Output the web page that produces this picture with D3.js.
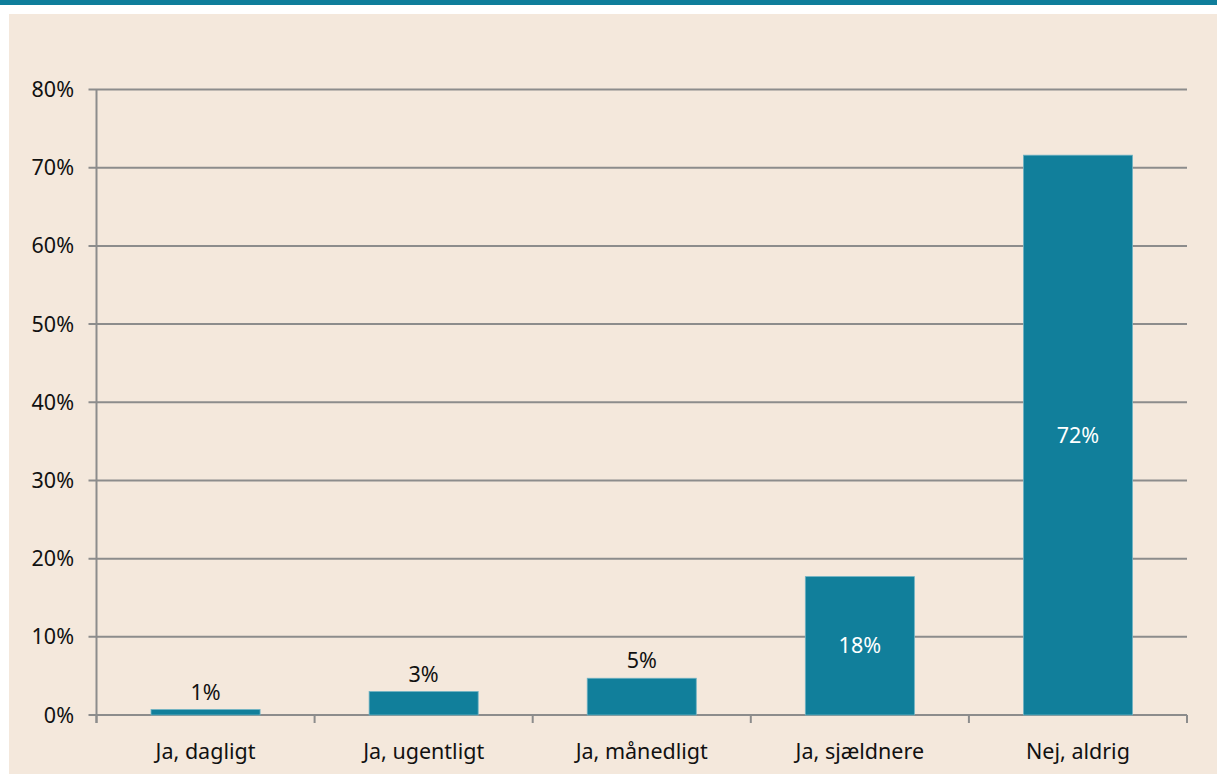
<!DOCTYPE html>
<html>
<head>
<meta charset="utf-8">
<script src="https://cdn.jsdelivr.net/npm/d3@7"></script>
<style>
  body { margin: 0; background: #fff; }
  svg { display: block; font-family: "Noto Sans", "Open Sans", sans-serif; }
</style>
</head>
<body>
<div id="vis-container"></div>
<script>
// data
const categories = ["Ja, dagligt", "Ja, ugentligt", "Ja, månedligt", "Ja, sjældnere", "Nej, aldrig"];
const values = [0.7, 3.0, 4.7, 17.7, 71.6];
const valueLabels = ["1%", "3%", "5%", "18%", "72%"];
const yTicks = [0, 10, 20, 30, 40, 50, 60, 70, 80];

const width = 1217;
const height = 774;
const margin = {left: 96.5, right: 30, top: 89.5, bottom: 59};
const barColor = "#117f9b";
const gridColor = "#8c8c8c";
const fontSize = 21.5;

const svg = d3.select("#vis-container")
  .append("svg")
  .attr("width", width)
  .attr("height", height);

// top teal strip and beige panel
svg.append("rect").attr("x", 0).attr("y", 0).attr("width", width).attr("height", 5).attr("fill", "#0f7e9b");
svg.append("rect").attr("x", 9).attr("y", 14).attr("width", width - 9).attr("height", height - 14).attr("fill", "#f4e8dc");

const x = d3.scaleBand()
  .domain(categories)
  .range([margin.left, width - margin.right])
  .paddingInner(0.5)
  .paddingOuter(0.25);

const xEdge = d3.scaleLinear()
  .domain([0, categories.length])
  .range([margin.left, width - margin.right]);

const y = d3.scaleLinear()
  .domain([0, 80])
  .range([height - margin.bottom, margin.top]);

// gridlines
svg.append("g")
  .selectAll("line")
  .data(yTicks)
  .join("line")
  .attr("x1", margin.left - 8)
  .attr("x2", width - margin.right)
  .attr("y1", d => y(d))
  .attr("y2", d => y(d))
  .attr("stroke", gridColor)
  .attr("stroke-width", 2);

// y axis line
svg.append("line")
  .attr("x1", margin.left).attr("x2", margin.left)
  .attr("y1", y(80)).attr("y2", y(0) + 8)
  .attr("stroke", gridColor).attr("stroke-width", 2);

// category ticks
svg.append("g")
  .selectAll("line")
  .data(d3.range(categories.length + 1))
  .join("line")
  .attr("x1", d => xEdge(d)).attr("x2", d => xEdge(d))
  .attr("y1", y(0)).attr("y2", y(0) + 8)
  .attr("stroke", gridColor).attr("stroke-width", 2);

// y tick labels
svg.append("g")
  .selectAll("text")
  .data(yTicks)
  .join("text")
  .attr("x", 74)
  .attr("y", d => y(d))
  .attr("dy", "0.35em")
  .attr("text-anchor", "end")
  .attr("font-size", fontSize)
  .attr("fill", "#111")
  .text(d => d + "%");

// bars
svg.append("g")
  .selectAll("rect")
  .data(values)
  .join("rect")
  .attr("x", (d, i) => x(categories[i]))
  .attr("y", d => y(d))
  .attr("width", x.bandwidth())
  .attr("height", d => y(0) - y(d))
  .attr("fill", barColor)
  .attr("stroke", "#6fb3c4")
  .attr("stroke-width", 0.8);

// value labels
svg.append("g")
  .selectAll("text")
  .data(values)
  .join("text")
  .attr("x", (d, i) => x(categories[i]) + x.bandwidth() / 2)
  .attr("y", d => d > 10 ? (y(d) + y(0)) / 2 : y(d) - 10)
  .attr("dy", d => d > 10 ? "0.35em" : "0")
  .attr("text-anchor", "middle")
  .attr("font-size", fontSize)
  .attr("fill", d => d > 10 ? "#fff" : "#111")
  .text((d, i) => valueLabels[i]);

// category labels
svg.append("g")
  .selectAll("text")
  .data(categories)
  .join("text")
  .attr("x", d => x(d) + x.bandwidth() / 2)
  .attr("y", 759)
  .attr("text-anchor", "middle")
  .attr("font-size", fontSize)
  .attr("fill", "#111")
  .text(d => d);
</script>
</body>
</html>
